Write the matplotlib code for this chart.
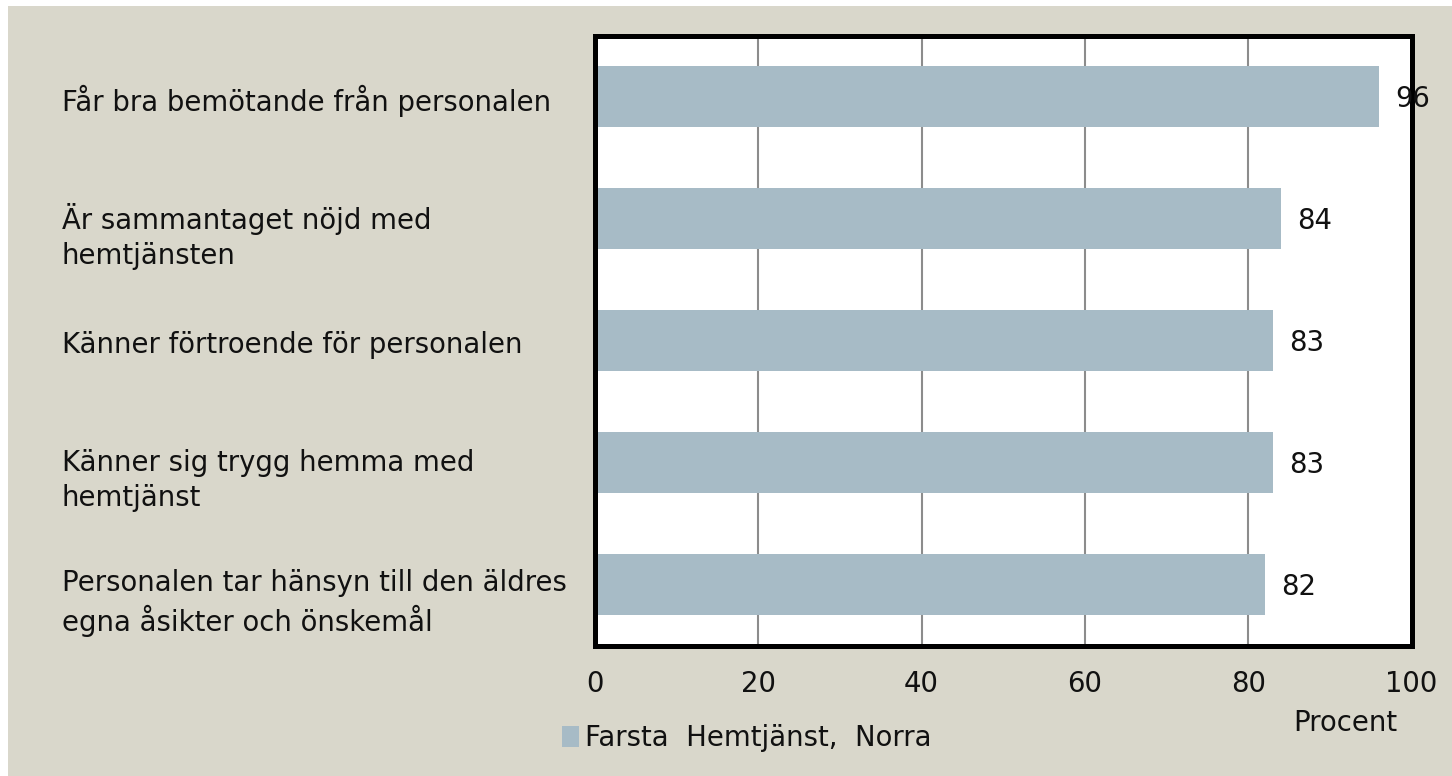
import matplotlib
matplotlib.use('Agg')
import matplotlib.pyplot as plt
from matplotlib.patches import Rectangle, Patch

categories = ['Får bra bemötande från personalen',
              'Är sammantaget nöjd med\nhemtjänsten',
              'Känner förtroende för personalen',
              'Känner sig trygg hemma med\nhemtjänst',
              'Personalen tar hänsyn till den äldres\negna åsikter och önskemål']
values = [96, 84, 83, 83, 82]
xticks = [0, 20, 40, 60, 80, 100]
series_name = 'Farsta  Hemtjänst,  Norra'
xlabel = 'Procent'

W, H = 1452, 776
bg = '#d9d7cb'
bar_color = '#a7bbc6'
fs = 19.8

plt.rcParams['font.family'] = ['DejaVu Sans']
fig = plt.figure(figsize=(W / 100, H / 100), dpi=100, facecolor='white')
# beige panel with a thin white strip at top and left
fig.patches.append(Rectangle((8 / W, 0), 1 - 8 / W, 1 - 6 / H, transform=fig.transFigure,
                             facecolor=bg, edgecolor='none', zorder=-10))

ax = fig.add_axes([595 / W, 1 - 645.5 / H, (1411.5 - 595) / W, (645.5 - 35.5) / H])
ax.set_facecolor('white')

ypos = list(range(len(categories)))
ax.barh(ypos, values, height=0.5, color=bar_color, zorder=2)
ax.set_ylim(len(categories) - 0.5, -0.5)
ax.set_xlim(0, 100)
ax.set_xticks(xticks)
ax.set_xticklabels([str(t) for t in xticks], fontsize=fs, color='#111111')
ax.tick_params(axis='x', length=0, pad=18)
ax.set_yticks([])
ax.xaxis.grid(True, color='#8c8c8c', linewidth=1.5, zorder=1)
ax.set_axisbelow(True)
for s in ax.spines.values():
    s.set_linewidth(3.6)
    s.set_color('black')

for y, v in zip(ypos, values):
    ax.annotate(str(v), xy=(v, y), xytext=(12, -1.5), textcoords='offset points',
                ha='left', va='center', fontsize=fs, color='#111111',
                annotation_clip=False, zorder=5)

for y, lab in zip(ypos, categories):
    dy = -13 if '\n' in lab else -3
    ax.annotate(lab, xy=(62 / W, y), xycoords=(fig.transFigure, ax.transData),
                xytext=(0, dy), textcoords='offset points',
                ha='left', va='center', fontsize=fs, color='#111111',
                linespacing=1.3, annotation_clip=False)

fig.text(1345 / W, 1 - 723 / H, xlabel, ha='center', va='center', fontsize=fs, color='#111111')

fig.legend(handles=[Patch(facecolor=bar_color, edgecolor='none', label=series_name)],
           loc='center left', bbox_to_anchor=(562 / W, 1 - 738 / H), frameon=False,
           fontsize=fs, handlelength=0.6, handleheight=0.8, handletextpad=0.25,
           labelcolor='#111111', borderpad=0, borderaxespad=0)

fig.savefig('out.png', dpi=100, facecolor=fig.get_facecolor())
